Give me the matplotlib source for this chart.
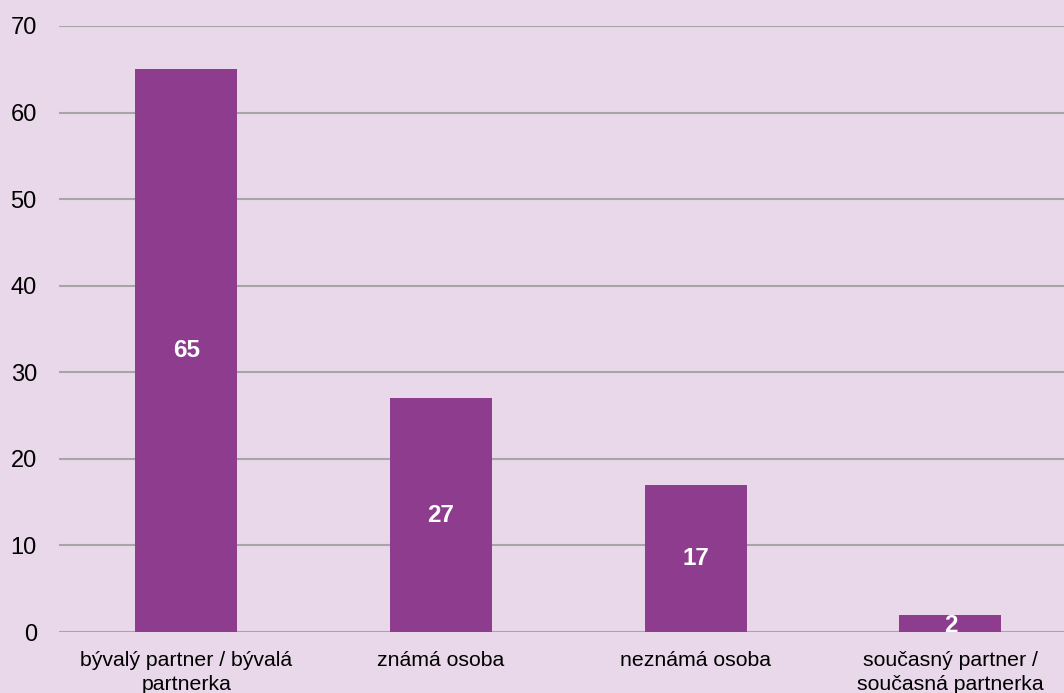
import matplotlib.pyplot as plt
import numpy as np

plt.rcParams['font.family'] = ['Liberation Sans', 'DejaVu Sans']

# data
categories = ["bývalý partner / bývalá\npartnerka", "známá osoba", "neznámá osoba",
              "současný partner /\nsoučasná partnerka"]
values = [65, 27, 17, 2]

bg = "#E8D8EA"
bar_color = "#8E3C8E"

fig = plt.figure(figsize=(10.64, 6.93), dpi=100, facecolor=bg)
ax = fig.add_axes([0.0555, 0.088, 0.9445, 0.8745], facecolor=bg)

x = np.arange(len(categories))
bars = ax.bar(x, values, width=0.4, color=bar_color, zorder=3)

for b, v in zip(bars, values):
    ax.text(b.get_x() + b.get_width() / 2, v / 2 if v > 5 else 0.7, str(v),
            ha="center", va="center", color="white", fontsize=17.5, fontweight="bold", zorder=4)

ax.set_ylim(0, 70)
ax.set_xlim(-0.5, 3.446)
ax.set_yticks(np.arange(0, 71, 10))
ax.set_xticks(x)
ax.set_xticklabels(categories, fontsize=15.3, linespacing=1.3)
ax.tick_params(axis="y", labelsize=17, length=0, pad=16)
ax.tick_params(axis="x", length=0, pad=14)
ax.yaxis.grid(True, color="#A6A6A6", linewidth=1.5, zorder=0)
for s in ax.spines.values():
    s.set_visible(False)

fig.savefig("out.png", dpi=100, facecolor=bg)
